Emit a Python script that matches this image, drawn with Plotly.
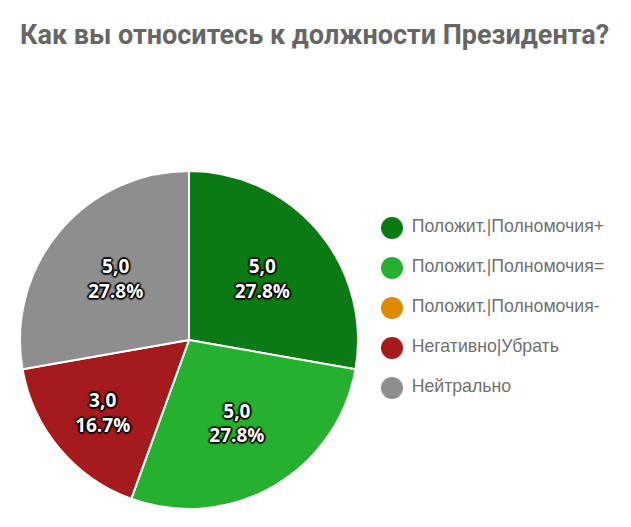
import plotly.graph_objects as go

categories = ["Положит.|Полномочия+", "Положит.|Полномочия=", "Положит.|Полномочия-",
              "Негативно|Убрать", "Нейтрально"]
values = [5, 5, 0, 3, 5]
colors = ["#0a7b13", "#26b02f", "#dc8a00", "#a51a1c", "#8e8e8e"]

W, H = 631, 527
cx, cy, R = 189, 340, 169

text = [f"{v:.1f}".replace(".", ",") for v in values]

fig = go.Figure()
fig.add_trace(go.Pie(
    labels=categories, values=values, text=text,
    texttemplate="%{text}<br>%{percent:.1%}",
    textposition="inside", insidetextorientation="horizontal",
    sort=False, direction="clockwise", rotation=0,
    marker=dict(colors=colors, line=dict(color="white", width=2)),
    textfont=dict(family="Open Sans", size=19, color="white", weight="bold",
                  shadow="2px 0 1px rgba(0,0,0,0.75), -2px 0 1px rgba(0,0,0,0.75), "
                         "0 2px 1px rgba(0,0,0,0.75), 0 -2px 1px rgba(0,0,0,0.75), "
                         "1px 1px 1px rgba(0,0,0,0.75), -1px -1px 1px rgba(0,0,0,0.75), "
                         "1px -1px 1px rgba(0,0,0,0.75), -1px 1px 1px rgba(0,0,0,0.75)"),
    showlegend=False, hoverinfo="label+value+percent",
    domain=dict(x=[(cx - R) / W, (cx + R) / W], y=[(H - cy - R) / H, (H - cy + R) / H]),
))

# legend drawn as a categorical scatter column
fig.add_trace(go.Scatter(
    x=[0] * len(categories), y=categories, mode="markers+text",
    text=["\u00a0" + c for c in categories], textposition="middle right",
    textfont=dict(family="Arial, Liberation Sans", size=17.7, color="#707070"),
    marker=dict(symbol="circle", size=22, color=colors),
    cliponaxis=False, showlegend=False, hoverinfo="skip",
))

fig.update_layout(
    width=W, height=H,
    margin=dict(l=0, r=0, t=0, b=0),
    paper_bgcolor="white", plot_bgcolor="rgba(0,0,0,0)",
    title=dict(text="<b>Как вы относитесь к должности Президента?</b>",
               x=20 / W, xanchor="left", y=1 - 35 / H, yanchor="middle",
               font=dict(family="Roboto", size=27, color="#666666")),
    xaxis=dict(visible=False, domain=[392 / W, 1], range=[0, 1], fixedrange=True),
    yaxis=dict(visible=False, type="category", categoryorder="array", categoryarray=categories,
               domain=[1 - 408 / H, 1 - 208 / H], range=[4.5, -0.5], fixedrange=True),
    showlegend=False,
)

fig.write_html("out.html")
